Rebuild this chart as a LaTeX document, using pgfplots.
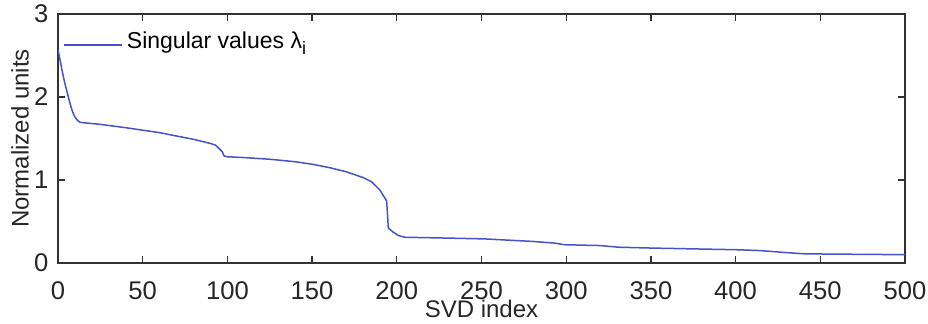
\documentclass[border=0pt]{standalone}
\usepackage{pgfplots}
\pgfplotsset{compat=1.18}
\usepackage{fontspec}
\setmainfont{Liberation Sans}
\definecolor{svdblue}{RGB}{70,82,200}
\definecolor{axgray}{RGB}{50,50,50}
\begin{document}
\fontsize{14}{16}\selectfont
\begin{tikzpicture}
\begin{axis}[
  scale only axis,
  width=423.5pt, height=124.5pt,
  xmin=0, xmax=500, ymin=0, ymax=3,
  xtick={0,50,...,500}, ytick={0,1,2,3},
  tick align=inside,
  major tick length=3.5pt,
  axis line style={axgray, line width=0.6pt},
  every tick/.style={axgray, line width=0.6pt},
  /pgf/number format/assume math mode=true,
  tick label style={font=\fontsize{12.8}{15}\selectfont, text=black!85},
  label style={font=\fontsize{12}{14}\selectfont, text=black!85},
  xlabel={SVD index},
  ylabel={Normalized units},
  xlabel style={at={(axis description cs:0.5,0)}, anchor=north, yshift=-18.5pt, inner sep=0pt},
  ylabel style={at={(axis description cs:-0.0449,0.5)}, anchor=center, inner sep=0pt},
  xticklabel style={inner sep=0pt, yshift=-9pt},
  legend style={draw=none, fill=none, at={(0.003,0.955)}, anchor=north west,
    font=\fontsize{11.5}{13}\selectfont, inner sep=1pt},
  legend cell align=left,
  legend image code/.code={\draw[svdblue, line width=1pt] (0pt,-1.5pt) -- (29pt,-1.5pt);},
]
\addplot[svdblue, line width=0.75pt] coordinates {
(0,2.57) (1,2.47) (2,2.36) (3,2.26) (4,2.17) (5,2.09) (6,2.01) (7,1.93)
(8,1.86) (9,1.80) (10,1.76) (11,1.73) (12,1.71) (13,1.695) (15,1.69)
(25,1.67) (40,1.63) (50,1.60) (60,1.57) (70,1.53) (80,1.49) (90,1.44)
(93,1.42) (95,1.38) (97,1.34) (98,1.29) (100,1.28) (110,1.27) (125,1.25)
(140,1.22) (150,1.19) (160,1.15) (170,1.10) (180,1.03) (185,0.98)
(190,0.88) (193,0.78) (194,0.75) (195,0.42) (198,0.37) (201,0.33)
(205,0.31) (230,0.30) (252,0.29) (280,0.26) (293,0.24) (299,0.22)
(320,0.21) (331,0.19) (350,0.18) (400,0.16) (414,0.15) (430,0.125)
(441,0.11) (500,0.10)
};
\addlegendentry{Singular values λ\raisebox{-0.5ex}{\fontsize{9}{11}\selectfont i}}
\end{axis}
\pgfresetboundingbox
\path[use as bounding box] ([xshift=-29pt,yshift=-30.5pt]current axis.south west) rectangle ([xshift=11.5pt,yshift=7pt]current axis.north east);
\end{tikzpicture}
\end{document}
